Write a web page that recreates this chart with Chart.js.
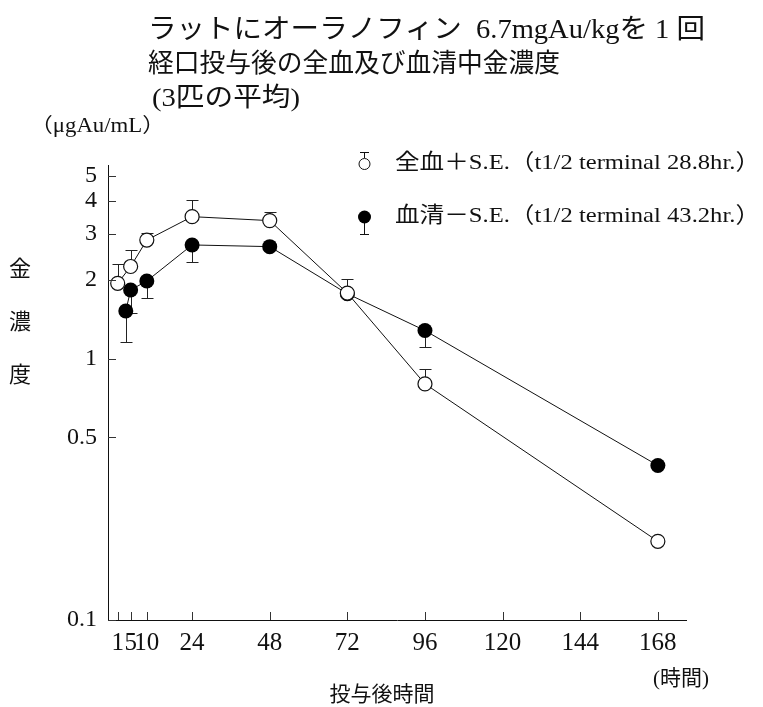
<!DOCTYPE html>
<html><head><meta charset="utf-8">
<script src="https://cdn.jsdelivr.net/npm/chart.js@4.4.1/dist/chart.umd.min.js"></script>
<style>html,body{margin:0;padding:0;background:#fff;}#wrap{width:763px;height:707px;position:relative;}</style>
</head><body><div id="wrap"><canvas id="c" width="763" height="707"></canvas></div>
<script>
// ---- data ----
const timeWhole = [1, 5, 10, 24, 48, 72, 96, 168];
const wholeBlood = [1.94, 2.25, 2.84, 3.49, 3.37, 1.78, 0.80, 0.20];
const wholeBloodSEupper = [2.29, 2.61, 3.01, 4.04, 3.65, 2.02, 0.91, null];
const timeSerum = [3.5, 5, 10, 24, 48, 72, 96, 168];
const serum = [1.52, 1.83, 1.98, 2.72, 2.68, 1.77, 1.28, 0.39];
const serumSElower = [1.16, 1.49, 1.71, 2.34, null, null, 1.11, null];
const xTickValues = [1, 5, 10, 24, 48, 72, 96, 120, 144, 168];
const yTickValues = [0.1, 0.5, 1, 2, 3, 4, 5];
const titleLines = ['ラットにオーラノフィン  6.7mgAu/kgを 1 回', '経口投与後の全血及び血清中金濃度', '(3匹の平均)'];
const unitLabel = '（μgAu/mL）';
const yTitleChars = ['金', '濃', '度'];
const xTitle = '投与後時間';
const xUnit = '(時間)';
const legendWhole = '全血＋S.E.（t1/2 terminal 28.8hr.）';
const legendSerum = '血清－S.E.（t1/2 terminal 43.2hr.）';

const FONT = '"Liberation Serif", "Noto Sans CJK JP", serif';
const toXY = (xs, ys) => xs.map((x, i) => ({x: x, y: ys[i]}));

function txt(ctx, s, x, y, size, align, width) {
  ctx.save();
  ctx.font = size + 'px ' + FONT;
  ctx.fillStyle = '#111';
  ctx.textBaseline = 'middle';
  ctx.textAlign = 'left';
  const w = ctx.measureText(s).width;
  let sx = 1;
  if (width) sx = width / w;
  let left = x;
  const ww = w * sx;
  if (align === 'center') left = x - ww / 2;
  else if (align === 'right') left = x - ww;
  ctx.translate(left, y);
  ctx.scale(sx, 1);
  ctx.fillText(s, 0, 0);
  ctx.restore();
}

const decor = {
  id: 'decor',
  beforeDatasetsDraw(chart) {
    const ctx = chart.ctx, xs = chart.scales.x, ys = chart.scales.y;
    ctx.save();
    ctx.strokeStyle = '#222';
    ctx.lineWidth = 1;
    const bars = (times, means, se) => {
      times.forEach((t, i) => {
        if (se[i] == null) return;
        const px = Math.round(xs.getPixelForValue(t)) + 0.5;
        const y0 = ys.getPixelForValue(means[i]);
        const y1 = Math.round(ys.getPixelForValue(se[i])) + 0.5;
        ctx.beginPath();
        ctx.moveTo(px, y0); ctx.lineTo(px, y1);
        ctx.moveTo(px - 6, y1); ctx.lineTo(px + 6, y1);
        ctx.stroke();
      });
    };
    bars(timeSerum, serum, serumSElower);
    bars(timeWhole, wholeBlood, wholeBloodSEupper);
    ctx.restore();
  },
  afterDraw(chart) {
    const ctx = chart.ctx, xs = chart.scales.x, ys = chart.scales.y;
    const a = chart.chartArea;
    ctx.save();
    ctx.strokeStyle = '#333';
    ctx.lineWidth = 1;
    ctx.beginPath();
    xTickValues.forEach(v => {
      const px = Math.round(xs.getPixelForValue(v)) + 0.5;
      ctx.moveTo(px, a.bottom); ctx.lineTo(px, a.bottom - 8);
    });
    yTickValues.forEach(v => {
      const py = Math.round(ys.getPixelForValue(v)) + 0.5;
      ctx.moveTo(a.left, py); ctx.lineTo(a.left + 8, py);
    });
    ctx.stroke();
    ctx.restore();

    // titles
    txt(ctx, titleLines[0], 148, 31, 27, 'left', 557);
    txt(ctx, titleLines[1], 148, 65, 26, 'left', 412);
    txt(ctx, titleLines[2], 152, 99, 26, 'left', 148);
    txt(ctx, unitLabel, 30, 127, 20, 'left', 135);
    yTitleChars.forEach((c, i) => txt(ctx, c, 20, 270 + i * 53, 22, 'center'));
    txt(ctx, xTitle, 382, 695, 21, 'center');
    txt(ctx, xUnit, 681, 679, 21, 'center');

    // legend
    ctx.save();
    ctx.strokeStyle = '#111';
    ctx.lineWidth = 1;
    ctx.beginPath();
    ctx.moveTo(364.5, 158); ctx.lineTo(364.5, 152.5);
    ctx.moveTo(360, 152.5); ctx.lineTo(369, 152.5);
    ctx.moveTo(364.5, 222); ctx.lineTo(364.5, 234.5);
    ctx.moveTo(360, 234.5); ctx.lineTo(369, 234.5);
    ctx.stroke();
    ctx.beginPath(); ctx.arc(364.5, 164, 5.5, 0, Math.PI * 2);
    ctx.fillStyle = '#fff'; ctx.fill(); ctx.stroke();
    ctx.beginPath(); ctx.arc(364.5, 217, 6.5, 0, Math.PI * 2);
    ctx.fillStyle = '#000'; ctx.fill();
    ctx.restore();
    txt(ctx, legendWhole, 395, 163, 22, 'left', 365);
    txt(ctx, legendSerum, 395, 216, 22, 'left', 365);
  }
};

new Chart(document.getElementById('c'), {
  type: 'line',
  data: {
    datasets: [
      {
        label: '全血',
        data: toXY(timeWhole, wholeBlood),
        borderColor: '#111', borderWidth: 1,
        pointRadius: 7, pointBorderWidth: 1.2,
        pointBackgroundColor: '#fff', pointBorderColor: '#111',
        fill: false, tension: 0
      },
      {
        label: '血清',
        data: toXY(timeSerum, serum),
        borderColor: '#111', borderWidth: 1,
        pointRadius: 7.5, pointBorderWidth: 0,
        pointBackgroundColor: '#000', pointBorderColor: '#000',
        fill: false, tension: 0
      }
    ]
  },
  options: {
    responsive: false,
    devicePixelRatio: 1,
    animation: false,
    layout: {padding: {left: 48, right: 77, top: 165, bottom: 47}},
    plugins: {legend: {display: false}, title: {display: false}, tooltip: {enabled: false}},
    scales: {
      x: {
        type: 'linear', min: -2, max: 176.7,
        grid: {display: false, drawTicks: false},
        border: {display: true, color: '#111', width: 1},
        afterBuildTicks: s => { s.ticks = xTickValues.map(v => ({value: v})); },
        afterFit: s => { s.height = 40; },
        ticks: {autoSkip: false, maxRotation: 0, padding: 8, color: '#111',
                font: {family: FONT, size: 25}, callback: v => String(v)}
      },
      y: {
        type: 'logarithmic', min: 0.1, max: 5.5,
        grid: {display: false, drawTicks: false},
        border: {display: true, color: '#111', width: 1},
        afterBuildTicks: s => { s.ticks = yTickValues.map(v => ({value: v})); },
        afterFit: s => { s.width = 60; },
        ticks: {autoSkip: false, padding: 11, color: '#111',
                font: {family: FONT, size: 24}, callback: v => String(v)}
      }
    }
  },
  plugins: [decor]
});
</script></body></html>
